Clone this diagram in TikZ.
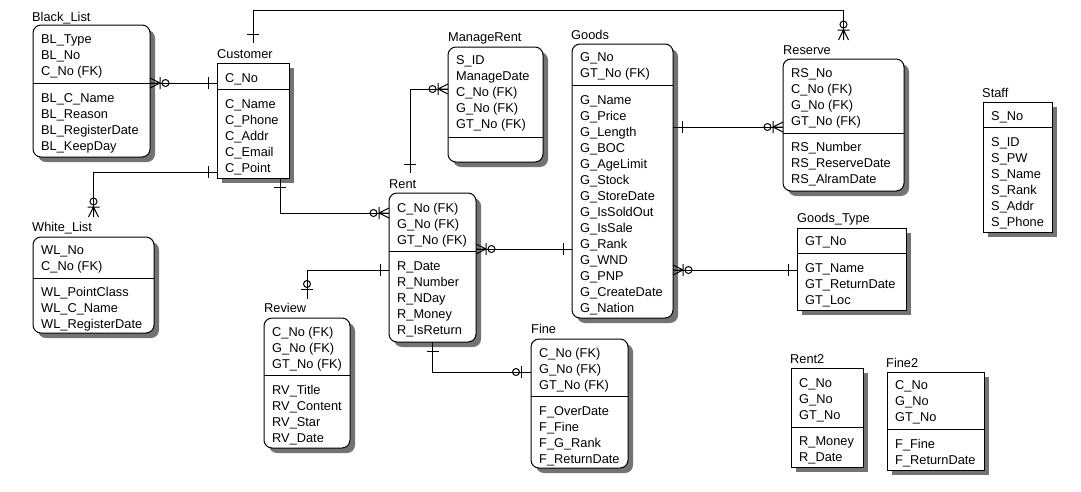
\documentclass[tikz,border=0pt]{standalone}
\usepackage{fontspec}
\setmainfont{Liberation Sans}
\usetikzlibrary{shadows}
\definecolor{shadowgray}{gray}{0.45}
\newcommand\rows[4]{\foreach \t [count=\i] in {#4} {\node[row] (#1\i) at (#2, {#3+5.5+16*(\i-1)}) {\t};}}
\tikzset{
  ebox/.style={draw, line width=1pt, fill=white, outer sep=0pt, inner sep=0pt, anchor=north west,
    general shadow={fill=shadowgray, shadow xshift=5pt, shadow yshift=-5pt}},
  rbox/.style={ebox, rounded corners=8pt},
  row/.style={anchor=base west, inner sep=0pt, font=\fontsize{12.8pt}{15pt}\selectfont},
  etitle/.style={row},
  conn/.style={line width=1pt},
  pics/one/.style={code={\draw[conn] (-9,-6) -- (-9,6);}},
  pics/zeroone/.style={code={\draw[conn] (-10,-6) -- (-10,6); \draw[conn] (-15,0) circle[radius=3.5];}},
  pics/zeromany/.style={code={\draw[conn] (-10,0) -- (0,-5) (-10,0) -- (0,0) (-10,0) -- (0,5) (-10,-6) -- (-10,6); \draw[conn] (-15.5,0) circle[radius=3.5];}},
}
\begin{document}
\begin{tikzpicture}[x=1pt,y=-1pt]
\fill[white] (0,0) rectangle (1081,491);
\useasboundingbox (0,0) rectangle (1081,491);

% ---------- Black_List
\node[rbox, minimum width=117pt, minimum height=132pt] (bl) at (33,25) {};
\draw[conn] (bl.west |- 0,83) -- (bl.east |- 0,83);
\node[etitle] (blt) at (32,21) {Black\_List};
\rows{blk}{41}{38}{BL\_Type,BL\_No,C\_No (FK)}
\rows{bla}{41}{97}{BL\_C\_Name,BL\_Reason,BL\_RegisterDate,BL\_KeepDay}

% ---------- Customer
\node[ebox, minimum width=72pt, minimum height=115pt] (cust) at (217,63) {};
\draw[conn] (cust.west |- 0,89) -- (cust.east |- 0,89);
\node[etitle] (custt) at (217,58) {Customer};
\rows{custk}{225}{77}{C\_No}
\rows{custa}{225}{103}{C\_Name,C\_Phone,C\_Addr,C\_Email,C\_Point}

% ---------- White_List
\node[rbox, minimum width=121pt, minimum height=96pt] (wl) at (33,237) {};
\draw[conn] (wl.west |- 0,278) -- (wl.east |- 0,278);
\node[etitle] (wlt) at (32,231) {White\_List};
\rows{wlk}{41}{249}{WL\_No,C\_No (FK)}
\rows{wla}{41}{291}{WL\_PointClass,WL\_C\_Name,WL\_RegisterDate}

% ---------- ManageRent
\node[rbox, minimum width=95pt, minimum height=115pt] (mr) at (448,47) {};
\draw[conn] (mr.west |- 0,137) -- (mr.east |- 0,137);
\node[etitle] (mrt) at (448,41) {ManageRent};
\rows{mrk}{456}{59}{S\_ID,ManageDate,C\_No (FK),G\_No (FK),GT\_No (FK)}

% ---------- Rent
\node[rbox, minimum width=87pt, minimum height=149pt] (rent) at (389,193) {};
\draw[conn] (rent.west |- 0,251) -- (rent.east |- 0,251);
\node[etitle] (rentt) at (389,188) {Rent};
\rows{rentk}{397}{207}{C\_No (FK),G\_No (FK),GT\_No (FK)}
\rows{renta}{397}{265}{R\_Date,R\_Number,R\_NDay,R\_Money,R\_IsReturn}

% ---------- Review
\node[rbox, minimum width=86pt, minimum height=130pt] (rev) at (264,318) {};
\draw[conn] (rev.west |- 0,375) -- (rev.east |- 0,375);
\node[etitle] (revt) at (264,312) {Review};
\rows{revk}{272}{331}{C\_No (FK),G\_No (FK),GT\_No (FK)}
\rows{reva}{272}{389}{RV\_Title,RV\_Content,RV\_Star,RV\_Date}

% ---------- Fine
\node[rbox, minimum width=97pt, minimum height=129pt] (fine) at (531,339) {};
\draw[conn] (fine.west |- 0,396) -- (fine.east |- 0,396);
\node[etitle] (finet) at (531,333) {Fine};
\rows{finek}{539}{352}{C\_No (FK),G\_No (FK),GT\_No (FK)}
\rows{finea}{539}{410}{F\_OverDate,F\_Fine,F\_G\_Rank,F\_ReturnDate}

% ---------- Goods
\node[rbox, minimum width=101pt, minimum height=274pt] (goods) at (572,44) {};
\draw[conn] (goods.west |- 0,85) -- (goods.east |- 0,85);
\node[etitle] (goodst) at (571,39) {Goods};
\rows{goodsk}{580}{56}{G\_No,GT\_No (FK)}
\rows{goodsa}{580}{99}{G\_Name,G\_Price,G\_Length,G\_BOC,G\_AgeLimit,G\_Stock,G\_StoreDate,G\_IsSoldOut,G\_IsSale,G\_Rank,G\_WND,G\_PNP,G\_CreateDate,G\_Nation}

% ---------- Reserve
\node[rbox, minimum width=121pt, minimum height=132pt] (res) at (783,59) {};
\draw[conn] (res.west |- 0,133) -- (res.east |- 0,133);
\node[etitle] (rest) at (783,54) {Reserve};
\rows{resk}{791}{72}{RS\_No,C\_No (FK),G\_No (FK),GT\_No (FK)}
\rows{resa}{791}{146}{RS\_Number,RS\_ReserveDate,RS\_AlramDate}

% ---------- Goods_Type
\node[ebox, minimum width=109pt, minimum height=82pt] (gt) at (797,228) {};
\draw[conn] (gt.west |- 0,253) -- (gt.east |- 0,253);
\node[etitle] (gtt) at (797,222) {Goods\_Type};
\rows{gtk}{805}{240}{GT\_No}
\rows{gta}{805}{267}{GT\_Name,GT\_ReturnDate,GT\_Loc}

% ---------- Rent2
\node[ebox, minimum width=72pt, minimum height=99pt] (rtwo) at (791,368) {};
\draw[conn] (rtwo.west |- 0,427) -- (rtwo.east |- 0,427);
\node[etitle] (rtwot) at (790,363) {Rent2};
\rows{rtwok}{799}{382}{C\_No,G\_No,GT\_No}
\rows{rtwoa}{799}{440}{R\_Money,R\_Date}

% ---------- Fine2
\node[ebox, minimum width=97pt, minimum height=98pt] (ftwo) at (887,372) {};
\draw[conn] (ftwo.west |- 0,429) -- (ftwo.east |- 0,429);
\node[etitle] (ftwot) at (886,367) {Fine2};
\rows{ftwok}{895}{384}{C\_No,G\_No,GT\_No}
\rows{ftwoa}{895}{443}{F\_Fine,F\_ReturnDate}

% ---------- Staff
\node[ebox, minimum width=69pt, minimum height=130pt] (staff) at (983,102) {};
\draw[conn] (staff.west |- 0,127) -- (staff.east |- 0,127);
\node[etitle] (stafft) at (982,97) {Staff};
\rows{staffk}{991}{115}{S\_No}
\rows{staffa}{991}{141}{S\_ID,S\_PW,S\_Name,S\_Rank,S\_Addr,S\_Phone}

% ---------- connectors
\coordinate (rentTop) at (410,173);
% Customer - Black_List
\draw[conn] (cust.west |- 0,83) -- (bl.east |- 0,83);
\pic at (cust.west |- 0,83) {one};
\pic[rotate=180] at (bl.east |- 0,83) {zeromany};
% Customer - Reserve
\draw[conn] ([yshift=20pt]cust.north) -- ++(0,-33) -| ([yshift=19pt]res.north);
\pic[rotate=-90] at ([yshift=20pt]cust.north) {one};
\pic[rotate=-90] at ([yshift=19pt]res.north) {zeromany};
% Customer - White_List
\draw[conn] (cust.west |- 0,172) -| ([yshift=20pt]wl.north);
\pic at (cust.west |- 0,172) {one};
\pic[rotate=-90] at ([yshift=20pt]wl.north) {zeromany};
% Customer - Rent
\draw[conn] (cust.south -| 280,0) |- (rent.west |- 0,213);
\pic[rotate=90] at (cust.south -| 280,0) {one};
\pic at (rent.west |- 0,213) {zeromany};
% Rent - ManageRent
\draw[conn] (mr.west |- 0,89) -| (rentTop);
\pic[rotate=-90] at (rentTop) {one};
\pic at (mr.west |- 0,89) {zeromany};
% Rent - Review
\draw[conn] (rent.west |- 0,270) -| ([yshift=19pt]rev.north);
\pic at (rent.west |- 0,270) {one};
\pic[rotate=-90] at ([yshift=19pt]rev.north) {zeroone};
% Rent - Fine
\draw[conn] (rent.south) |- (fine.west |- 0,372);
\pic[rotate=90] at (rent.south) {one};
\pic at (fine.west |- 0,372) {zeroone};
% Rent - Goods
\draw[conn] (rent.east |- 0,249) -- (goods.west |- 0,249);
\pic[rotate=180] at (rent.east |- 0,249) {zeromany};
\pic at (goods.west |- 0,249) {one};
% Goods - Reserve
\draw[conn] (goods.east |- 0,127) -- (res.west |- 0,127);
\pic[rotate=180] at (goods.east |- 0,127) {one};
\pic at (res.west |- 0,127) {zeromany};
% Goods - Goods_Type
\draw[conn] (goods.east |- 0,270) -- (gt.west |- 0,270);
\pic[rotate=180] at (goods.east |- 0,270) {zeromany};
\pic at (gt.west |- 0,270) {one};
\end{tikzpicture}
\end{document}
